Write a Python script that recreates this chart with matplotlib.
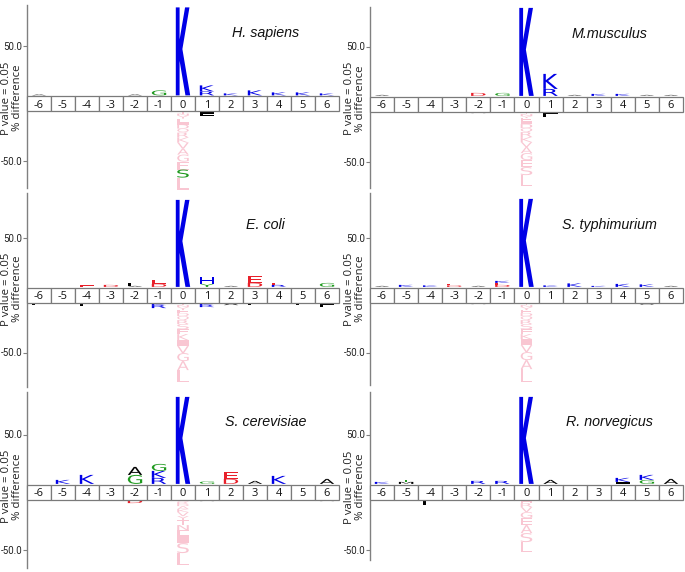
import numpy as np
import matplotlib
matplotlib.use('Agg')
import matplotlib.pyplot as plt
from matplotlib.textpath import TextPath
from matplotlib.patches import PathPatch, Rectangle
from matplotlib.font_manager import FontProperties
from matplotlib.transforms import Affine2D

positions = list(range(-6, 7))
species = ['H. sapiens', 'M.musculus', 'E. coli', 'S. typhimurium', 'S. cerevisiae', 'R. norvegicus']
tick_values = [50, -50]
tick_labels = ['50.0', '-50.0']

# residues stacked from the position boxes outward: (position, residue, % difference)
hs_up = [(-6, 'A', 1), (-2, 'A', 1), (-1, 'G', 5), (0, 'K', 88), (1, 'R', 4), (1, 'K', 6),
         (2, 'K', 2), (3, 'K', 5), (4, 'K', 3), (5, 'K', 3), (6, 'K', 2)]
hs_down = [(1, 'I', 2), (1, 'L', 2)]
mm_up = [(-6, 'A', 1), (-2, 'D', 3), (-1, 'G', 3), (0, 'K', 88), (1, 'R', 7), (1, 'K', 15),
         (2, 'A', 1), (3, 'K', 2), (4, 'K', 2), (5, 'A', 1), (6, 'A', 1)]
mm_down = [(-3, 'L', 1), (-2, 'A', 1), (1, 'I', 2), (1, 'L', 3)]
ec_up = [(-4, 'E', 1.5), (-3, 'D', 2), (-2, 'A', 1), (-2, 'F', 3), (-1, 'D', 3), (-1, 'E', 4),
         (0, 'K', 87), (1, 'Y', 3), (1, 'H', 7), (2, 'A', 1), (3, 'D', 4), (3, 'E', 7),
         (4, 'R', 2), (4, 'E', 2), (6, 'G', 4)]
ec_down = [(-6, 'L', 2), (-4, 'L', 3), (-1, 'K', 2), (-1, 'R', 3), (1, 'K', 2), (1, 'R', 2),
           (2, 'A', 2), (3, 'L', 2), (5, 'L', 2), (6, 'I', 2), (6, 'L', 2)]
st_up = [(-6, 'A', 1), (-5, 'K', 2), (-4, 'K', 1.5), (-3, 'D', 1.5), (-3, 'E', 1.5), (-2, 'A', 1),
         (-1, 'D', 2), (-1, 'E', 2), (-1, 'K', 2), (0, 'K', 88), (1, 'K', 1.5), (2, 'K', 3.5),
         (3, 'K', 1), (4, 'K', 3), (5, 'K', 2.5), (6, 'A', 1)]
st_down = [(-3, 'L', 1), (-2, 'A', 1), (5, 'A', 1.5)]
sc_up = [(-5, 'K', 4), (-4, 'K', 9), (-2, 'G', 9), (-2, 'A', 8), (-1, 'R', 6), (-1, 'K', 7),
         (-1, 'G', 7), (0, 'K', 87), (1, 'G', 2.5), (2, 'D', 5), (2, 'E', 7), (3, 'A', 3),
         (4, 'K', 8), (6, 'A', 5)]
sc_down = [(-2, 'D', 3), (1, 'A', 1), (6, 'A', 1)]
rn_up = [(-6, 'K', 2), (-5, 'M', 2), (-5, 'T', 2), (-2, 'R', 3), (-1, 'R', 3), (0, 'K', 87),
         (1, 'A', 4), (4, 'I', 2), (4, 'K', 4), (5, 'G', 4), (5, 'K', 5), (6, 'A', 5)]
rn_down = [(-4, 'L', 5)]

# depleted residues at the fixed lysine position (0), from the box outward
hs_col = 'TNYFIDQRKVAGESL'
hs_col_h = [2, 2, 3, 3, 3, 4, 4, 5, 5, 6, 6, 7, 8, 8, 12]
mm_col = 'TNYFIDQRKVAGESL'
mm_col_h = [2, 2, 2, 3, 3, 4, 4, 5, 5, 5, 6, 7, 7, 8, 11]
ec_col = 'TNYFDQRSEKIVGAL'
ec_col_h = [2, 2, 3, 3, 3, 4, 4, 5, 5, 6, 6, 7, 8, 9, 12]
st_col = 'TNYFDQRSEKIVGAL'
st_col_h = [2, 2, 3, 3, 3, 4, 4, 5, 5, 5, 6, 7, 8, 9, 13]
sc_col = 'QRDAKVYTNEISL'
sc_col_h = [2, 2, 2, 3, 3, 4, 4, 5, 5, 6, 7, 10, 12]
rn_col = 'HRVGEASL'
rn_col_h = [3, 4, 5, 6, 7, 8, 9, 10]
# residues of that column shown in their own colour
hs_col_sig = ['S']

BLUE, RED, GREEN, BLACK, PINK = '#0000e6', '#e8202a', '#1f9a1f', '#000000', '#f9c6d2'
res_colors = {}
for r in 'KRH':
    res_colors[r] = BLUE
for r in 'DE':
    res_colors[r] = RED
for r in 'GSTYCQN':
    res_colors[r] = GREEN
for r in 'AVLIPWFM':
    res_colors[r] = BLACK

HALF = 7.5      # half height of the position boxes
GAP = 0.6
LETTER_W = 0.6
FP = FontProperties(family='DejaVu Sans')
FP_BOLD = FontProperties(family='DejaVu Sans', weight='bold')


def ypos(v):
    return np.sign(v) * (HALF + abs(v))


def draw_letter(ax, ch, x, y0, w, h, color, lw=0):
    prop = FP_BOLD if h > 30 else FP
    tp = TextPath((0, 0), ch, size=1, prop=prop)
    bb = tp.get_extents()
    t = Affine2D().translate(-bb.x0, -bb.y0).scale(w / bb.width, h / bb.height) \
        .translate(x - w / 2, y0)
    ax.add_patch(PathPatch(t.transform_path(tp), fc=color, ec='none', lw=lw, clip_on=False))


def stack(ax, entries, sign):
    level = {}
    for pos, res, h in entries:
        base = level.get(pos, HALF + GAP)
        y0 = base if sign > 0 else -base - h
        draw_letter(ax, res, pos, y0, LETTER_W, h, res_colors[res])
        level[pos] = base + h


panels = [
    (species[0], hs_up, hs_down, hs_col, hs_col_h, hs_col_sig, (27, 312, 5, 188, 103.5)),
    (species[1], mm_up, mm_down, mm_col, mm_col_h, [], (370, 313, 7, 188, 104)),
    (species[2], ec_up, ec_down, ec_col, ec_col_h, [], (27, 312, 193, 387, 295)),
    (species[3], st_up, st_down, st_col, st_col_h, [], (370, 313, 193, 385, 295)),
    (species[4], sc_up, sc_down, sc_col, sc_col_h, [], (27, 312, 392, 568, 492)),
    (species[5], rn_up, rn_down, rn_col, rn_col_h, [], (370, 313, 392, 560, 492)),
]

W, H = 685, 572
fig = plt.figure(figsize=(W / 100, H / 100), dpi=100)

for name, up, down, col, col_h, col_sig, (lx, wx, top, bot, cen) in panels:
    ax = fig.add_axes([lx / W, (H - bot) / H, wx / W, (bot - top) / H])
    ax.set_xlim(-6.5, 6.5)
    ax.set_ylim(-(bot - cen), cen - top)
    for s in ['top', 'right', 'bottom']:
        ax.spines[s].set_visible(False)
    ax.spines['left'].set_color('#808080')
    ax.spines['left'].set_linewidth(1)
    ax.set_xticks([])
    ax.set_yticks([ypos(v) for v in tick_values])
    ax.set_yticklabels(tick_labels, fontfamily='Roboto', fontsize=7, color='#222222')
    ax.tick_params(axis='y', length=3, width=0.8, color='#808080', pad=0.5)
    ax.set_ylabel('P value = 0.05\n% difference', fontfamily='Open Sans', fontsize=8.2,
                  linespacing=0.95, color='#222222')
    ax.yaxis.set_label_coords(-4.0 / wx, (bot - cen) / (bot - top) + 0.03)

    for p in positions:
        ax.add_patch(Rectangle((p - 0.5, -HALF), 1, 2 * HALF, fc='white', ec='#7a7a7a',
                               lw=0.9, clip_on=False, zorder=3))
        ax.text(p, 0, str(p), ha='center', va='center_baseline', fontfamily='Open Sans',
                fontsize=8, color='#111111', zorder=4)

    stack(ax, up, 1)
    stack(ax, down, -1)
    base = HALF + GAP
    for res, h in zip(col, col_h):
        c = res_colors[res] if res in col_sig else PINK
        draw_letter(ax, res, 0, -base - h, LETTER_W * 0.8, h, c)
        base += h

    ax.text(0.765, 70, name, transform=ax.get_yaxis_transform(), ha='center', va='center',
            fontfamily='Liberation Sans', fontstyle='italic', fontsize=10.3, color='#111111')

fig.savefig('out.png', dpi=100)
